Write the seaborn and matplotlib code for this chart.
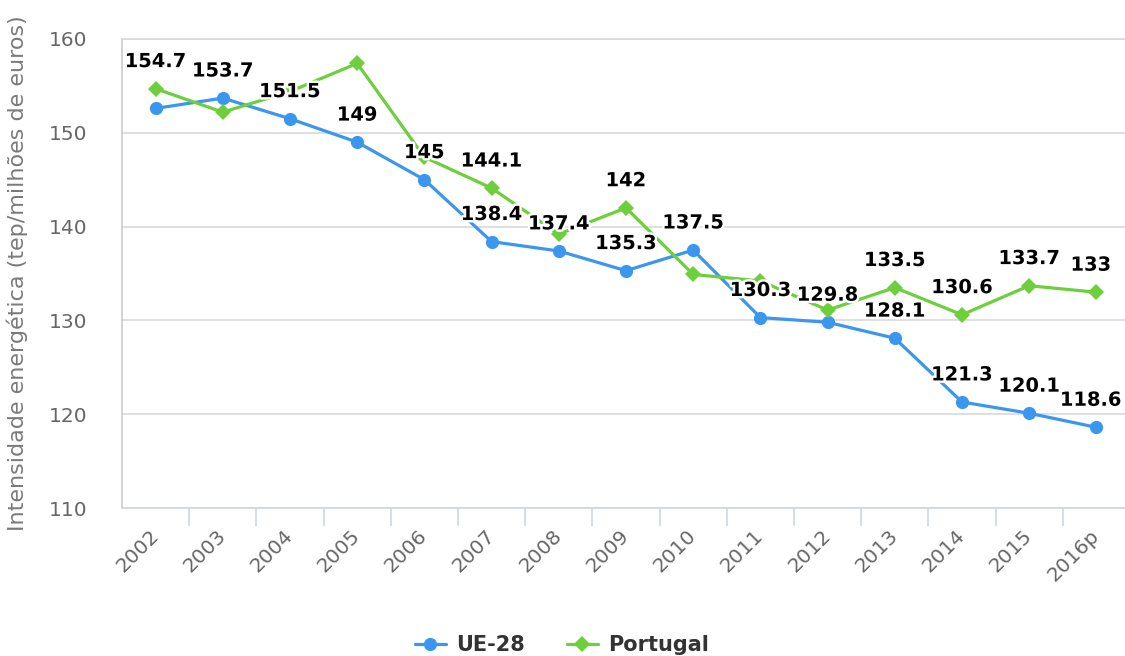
import matplotlib
matplotlib.use("Agg")
import matplotlib.pyplot as plt
import seaborn as sns
import pandas as pd
from matplotlib import patheffects as pe
from matplotlib.lines import Line2D
from matplotlib.ticker import FixedLocator

# ---------------- data ----------------
years = ["2002", "2003", "2004", "2005", "2006", "2007", "2008", "2009",
         "2010", "2011", "2012", "2013", "2014", "2015", "2016p"]
ue28 = [152.6, 153.7, 151.5, 149.0, 145.0, 138.4, 137.4, 135.3,
        137.5, 130.3, 129.8, 128.1, 121.3, 120.1, 118.6]
portugal = [154.7, 152.2, 154.4, 157.4, 147.4, 144.1, 139.2, 142.0,
            134.9, 134.2, 131.1, 133.5, 130.6, 133.7, 133.0]
# which data labels are visible in the original (overlapping ones are hidden)
ue28_label_shown = [False, True, True, True, True, True, True, True,
                    True, True, True, True, True, True, True]
portugal_label_shown = [True, False, False, False, False, True, False, True,
                        False, False, False, True, True, True, True]
series_names = ["UE-28", "Portugal"]
y_ticks = [110, 120, 130, 140, 150, 160]
y_title = "Intensidade energética (tep/milhões de euros)"

# ---------------- style ----------------
sns.set_theme(style="white")
plt.rcParams["font.family"] = ["DejaVu Sans"]

colors = {"UE-28": "#3b97ee", "Portugal": "#6ccf3b"}
markers = {"UE-28": "o", "Portugal": "D"}
msizes = {"UE-28": 9.5, "Portugal": 8.0}

df = pd.DataFrame({
    "Ano": years * 2,
    "Valor": ue28 + portugal,
    "Série": [series_names[0]] * len(years) + [series_names[1]] * len(years),
})

W, H = 1125, 656
fig = plt.figure(figsize=(W / 100, H / 100), dpi=100)
ax = fig.add_axes([122 / W, 148 / H, 1008 / W, 469 / H])

for name in series_names:
    sub = df[df["Série"] == name]
    sns.lineplot(data=sub, x="Ano", y="Valor", color=colors[name],
                 marker=markers[name], markersize=msizes[name],
                 markeredgewidth=0, linewidth=2.3, sort=False,
                 ax=ax, legend=False)

ax.set_xlim(-0.5, len(years) - 0.5)
ax.set_ylim(y_ticks[0], y_ticks[-1])
ax.set_yticks(y_ticks)

# grid & spines
ax.set_axisbelow(True)
ax.yaxis.grid(True, color="#d9d9d9", linewidth=1.2)
ax.xaxis.grid(False)
ax.spines["top"].set_visible(True)
ax.spines["top"].set_color("#d9d9d9")
ax.spines["top"].set_linewidth(1.2)
ax.spines["right"].set_visible(False)
ax.spines["left"].set_color("#cccccc")
ax.spines["left"].set_linewidth(1.2)
ax.spines["bottom"].set_color("#ccd6eb")
ax.spines["bottom"].set_linewidth(1.2)

# ticks
ax.tick_params(axis="y", length=0, pad=25, labelsize=14.5, labelcolor="#666666")
ax.tick_params(axis="x", which="major", length=0, pad=18, labelsize=14.5,
               labelcolor="#666666")
ax.xaxis.set_minor_locator(FixedLocator([i + 0.5 for i in range(len(years))]))
ax.tick_params(axis="x", which="minor", length=13, width=1.2, color="#ccd6eb",
               bottom=True)
for lab in ax.get_xticklabels():
    lab.set_rotation(45)
    lab.set_ha("right")
    lab.set_va("center")
    lab.set_rotation_mode("anchor")

ax.set_xlabel("")
ax.set_ylabel(y_title, fontsize=16, color="#7a7a7a")
ax.yaxis.set_label_coords((28 - 122) / 1008, 0.5)

# data labels (the last column is nudged left so it stays inside the figure)
stroke = [pe.withStroke(linewidth=3.5, foreground="white")]
last = len(years) - 1
for vals, shown in ((ue28, ue28_label_shown), (portugal, portugal_label_shown)):
    for i, (yr, v, s) in enumerate(zip(years, vals, shown)):
        if not s:
            continue
        dx = -4 if i == last else 0
        ax.annotate(f"{v:g}", (yr, v), xytext=(dx, 19.5), textcoords="offset points",
                    ha="center", va="center", fontsize=14, fontweight="bold",
                    color="black", path_effects=stroke, zorder=10,
                    annotation_clip=False)

# legend
handles = [Line2D([], [], color=colors[n], marker=markers[n],
                  markersize=msizes[n], markeredgewidth=0, linewidth=2.3)
           for n in series_names]
fig.legend(handles, series_names, loc="center", bbox_to_anchor=(562 / W, 1 - 645 / H),
           ncol=2, frameon=False, prop={"weight": "bold", "size": 15},
           labelcolor="#333333", handlelength=1.5, handletextpad=0.5,
           columnspacing=2.0)

fig.savefig("out.png", dpi=100)
